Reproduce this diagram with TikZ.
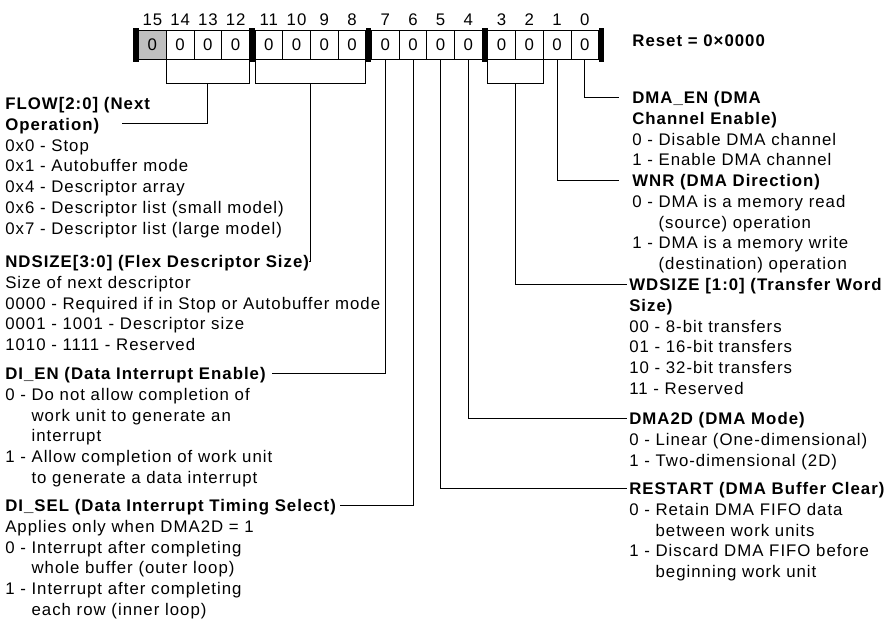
\documentclass[tikz,border=0pt]{standalone}
\usepackage{fontspec}
\setmainfont{Liberation Sans}[LetterSpace=6]
\usetikzlibrary{positioning, calc}
\tikzset{
  cell/.style={
    draw,
    line width=0.6pt,
    outer sep=0pt,
    inner sep=0pt,
    minimum width=20.8pt,
    minimum height=21.8pt
  },
  regbar/.style={
    fill=black,
    outer sep=0pt,
    inner sep=0pt,
    minimum width=4.1pt,
    minimum height=25pt
  },
  field/.style={anchor=north west, inner sep=0pt, align=left},
  wire/.style={line width=0.6pt}
}
\newcommand{\contd}{\phantom{0 - }}

\begin{document}
\begin{tikzpicture}[x=0.75pt, y=-0.75pt,
  every node/.style={font=\fontsize{12.6}{15.6}\selectfont}]
\useasboundingbox (0,0) rectangle (894,621);

% Register, bits 15..0
\node [regbar] (s0) at (135.8,45) {};
\node [cell, fill=gray!50, right=0pt of s0, label=above:15] (b15) {0};
\node [cell, right=0pt of b15, label=above:14] (b14) {0};
\node [cell, right=0pt of b14, label=above:13] (b13) {0};
\node [cell, right=0pt of b13, label=above:12] (b12) {0};
\node [regbar, right=0pt of b12] (s1) {};
\node [cell, right=0pt of s1, label=above:11] (b11) {0};
\node [cell, right=0pt of b11, label=above:10] (b10) {0};
\node [cell, right=0pt of b10, label=above:9] (b9) {0};
\node [cell, right=0pt of b9, label=above:8] (b8) {0};
\node [regbar, right=0pt of b8] (s2) {};
\node [cell, right=0pt of s2, label=above:7] (b7) {0};
\node [cell, right=0pt of b7, label=above:6] (b6) {0};
\node [cell, right=0pt of b6, label=above:5] (b5) {0};
\node [cell, right=0pt of b5, label=above:4] (b4) {0};
\node [regbar, right=0pt of b4] (s3) {};
\node [cell, right=0pt of s3, label=above:3] (b3) {0};
\node [cell, right=0pt of b3, label=above:2] (b2) {0};
\node [cell, right=0pt of b2, label=above:1] (b1) {0};
\node [cell, right=0pt of b1, label=above:0] (b0) {0};
\node [regbar, right=0pt of b0] (s4) {};

\node [inner sep=0pt, right=21pt of s4, yshift=3pt] (reset)
    {\textbf{Reset = 0×0000}};

% Field descriptions, left side
\node [field] (flow) at (5,97) {\textbf{FLOW[2:0] (Next}\\\textbf{Operation)}\\
    0x0 - Stop\\0x1 - Autobuffer mode\\0x4 - Descriptor array\\
    0x6 - Descriptor list (small model)\\0x7 - Descriptor list (large model)};

\node [field] (ndsize) at (5,255) {\textbf{NDSIZE[3:0] (Flex Descriptor Size)}\\
    Size of next descriptor\\0000 - Required if in Stop or Autobuffer mode\\
    0001 - 1001 - Descriptor size\\1010 - 1111 - Reserved};

\node [field] (dien) at (5,367) {\textbf{DI\_EN (Data Interrupt Enable)}\\
    0 - Do not allow completion of\\\contd work unit to generate an\\
    \contd interrupt\\1 - Allow completion of work unit\\
    \contd to generate a data interrupt};

\node [field] (disel) at (5,499) {\textbf{DI\_SEL (Data Interrupt Timing Select)}\\
    Applies only when DMA2D = 1\\0 - Interrupt after completing\\
    \contd whole buffer (outer loop)\\1 - Interrupt after completing\\
    \contd each row (inner loop)};

% Field descriptions, right side
\node [field] (dmaen) at (632,91) {\textbf{DMA\_EN (DMA}\\\textbf{Channel Enable)}\\
    0 - Disable DMA channel\\1 - Enable DMA channel};

\node [field] (wnr) at (632,174) {\textbf{WNR (DMA Direction)}\\
    0 - DMA is a memory read\\\contd (source) operation\\
    1 - DMA is a memory write\\\contd (destination) operation};

\node [field] (wdsize) at (629,278) {\textbf{WDSIZE [1:0] (Transfer Word}\\
    \textbf{Size)}\\00 - 8-bit transfers\\01 - 16-bit transfers\\
    10 - 32-bit transfers\\11 - Reserved};

\node [field] (dmatwod) at (629,412) {\textbf{DMA2D (DMA Mode)}\\
    0 - Linear (One-dimensional)\\1 - Two-dimensional (2D)};

\node [field] (restart) at (629,482) {\textbf{RESTART (DMA Buffer Clear)}\\
    0 - Retain DMA FIFO data\\\contd between work units\\
    1 - Discard DMA FIFO before\\\contd beginning work unit};

% Line ends next to the headings
\coordinate (flowtip) at (122,123);
\coordinate (ndsizetip) at (309,261);
\coordinate (dientip) at (272,373);
\coordinate (diseltip) at (340,505);
\coordinate (dmaentip) at (619,97);
\coordinate (wnrtip) at (619,180);
\coordinate (wdsizetip) at (627,284);
\coordinate (dmatwodtip) at (627,418);
\coordinate (restarttip) at (627,488);

% Brackets over multi-bit fields
\draw[wire] (b14.south west) -- ++(0,24) -| (b12.south east);
\draw[wire] ($(b14.south west)!.5!(b12.south east)+(0,24)$) |- (flowtip);

\draw[wire] (b11.south west) -- ++(0,24) -| (b8.south east);
\draw[wire] ($(b11.south west)!.5!(b8.south east)+(0,24)$) |- (ndsizetip);

\draw[wire] (b3.south west) -- ++(0,24) -| (b2.south east);
\draw[wire] ($(b3.south west)!.5!(b2.south east)+(0,24)$) |- (wdsizetip);

% Single bit fields
\draw[wire] (b7.south) |- (dientip);
\draw[wire] (b6.south) |- (diseltip);
\draw[wire] (b5.south) |- (restarttip);
\draw[wire] (b4.south) |- (dmatwodtip);
\draw[wire] (b1.south) |- (wnrtip);
\draw[wire] (b0.south) |- (dmaentip);

\end{tikzpicture}
\end{document}
